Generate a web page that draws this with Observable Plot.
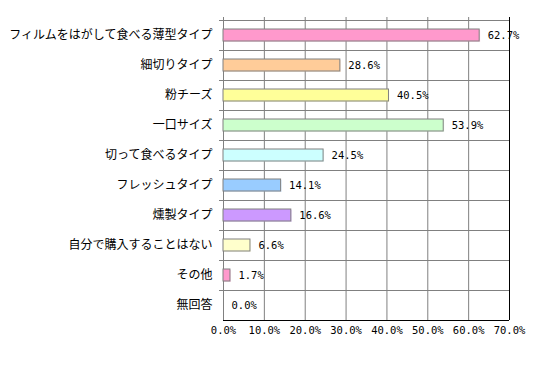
<!DOCTYPE html>
<html>
<head>
<meta charset="utf-8">
<script src="https://cdn.jsdelivr.net/npm/d3@7"></script>
<script src="https://cdn.jsdelivr.net/npm/@observablehq/plot@0.6"></script>
<style>
  html, body { margin: 0; padding: 0; background: #fff; }
  #chart svg { display: block; }
</style>
</head>
<body>
<div id="chart"></div>
<script>
const categories = [
  "フィルムをはがして食べる薄型タイプ",
  "細切りタイプ",
  "粉チーズ",
  "一口サイズ",
  "切って食べるタイプ",
  "フレッシュタイプ",
  "燻製タイプ",
  "自分で購入することはない",
  "その他",
  "無回答"
];
const values = [62.7, 28.6, 40.5, 53.9, 24.5, 14.1, 16.6, 6.6, 1.7, 0.0];
const xTicks = [0, 10, 20, 30, 40, 50, 60, 70];
const barColors = ["#FF99CC", "#FFCC99", "#FFFF99", "#CCFFCC", "#CCFFFF", "#99CCFF", "#CC99FF", "#FFFFCC", "#FF99CC", "#FFFFFF"];

const data = categories.map((c, i) => ({cat: c, v: values[i], color: barColors[i]}));
const fmt = d => d.toFixed(1) + "%";
const mono = "'DejaVu Sans Mono', 'Liberation Mono', monospace";
const lastCat = categories[categories.length - 1];

const chart = Plot.plot({
  width: 540,
  height: 367,
  marginLeft: 223,
  marginRight: 31,
  marginTop: 20,
  marginBottom: 47,
  style: {fontFamily: "'Noto Sans CJK JP', sans-serif", background: "#fff"},
  x: {domain: [0, 70], axis: null, label: null},
  y: {domain: categories, paddingInner: 0.6, paddingOuter: 0.3, axis: null, label: null},
  marks: [
    // vertical grid lines
    Plot.ruleX(xTicks.slice(0, -1), {x: d => d, stroke: "#808080", strokeWidth: 1, insetTop: -3}),
    Plot.ruleX([70], {x: d => d, stroke: "#000", strokeWidth: 1, insetTop: -3}),
    // horizontal category boundary lines
    Plot.ruleY(categories, {y: d => d, dy: -15, stroke: "#808080", strokeWidth: 1, insetLeft: -4}),
    Plot.ruleY([lastCat], {y: d => d, dy: 15, stroke: "#000", strokeWidth: 1}),
    // bar shadow
    Plot.barX(data.filter(d => d.v > 0), {x: "v", y: "cat", fill: "color", fillOpacity: 0.35, dx: 1, dy: 1}),
    // bars
    Plot.barX(data.filter(d => d.v > 0), {x: "v", y: "cat", fill: "color", stroke: "#808080", strokeWidth: 1}),
    // value labels
    Plot.text(data, {x: "v", y: "cat", text: d => fmt(d.v), dx: 8, textAnchor: "start", fontFamily: mono, fontSize: 10.5, fill: "#000"}),
    // y labels
    Plot.axisY({tickSize: 0, tickPadding: 11, fontSize: 12, fill: "#000", label: null}),
    // x tick labels
    Plot.axisX(xTicks, {tickSize: 0, tickPadding: 6, tickFormat: fmt, fontFamily: mono, fontSize: 10.5, fill: "#000", label: null})
  ]
});
document.getElementById("chart").appendChild(chart);
</script>
</body>
</html>
